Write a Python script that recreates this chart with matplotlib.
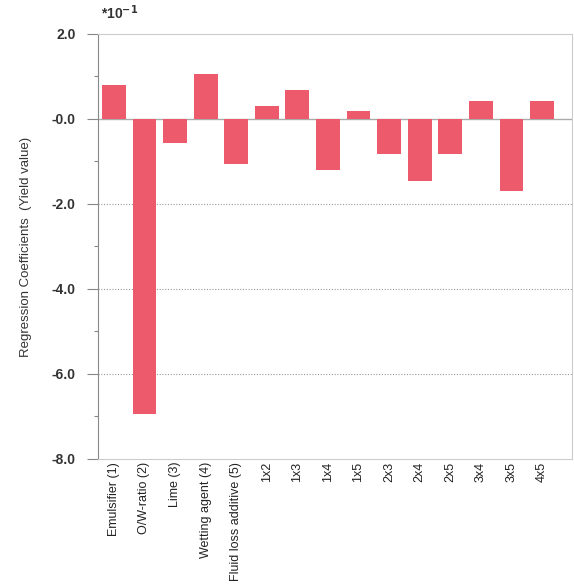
import numpy as np
import matplotlib.pyplot as plt
from matplotlib.ticker import MultipleLocator

plt.rcParams['font.family'] = ['Liberation Sans', 'DejaVu Sans']

# regression coefficients (scaled by 10)
labels = ['Emulsifier (1)', 'O/W-ratio (2)', 'Lime (3)', 'Wetting agent (4)',
          'Fluid loss additive (5)', '1x2', '1x3', '1x4', '1x5', '2x3',
          '2x4', '2x5', '3x4', '3x5', '4x5']
coef = [0.81, -6.95, -0.56, 1.06, -1.07, 0.31, 0.69, -1.19, 0.18, -0.82,
        -1.45, -0.82, 0.43, -1.70, 0.43]

fig = plt.figure(figsize=(5.74, 5.88), dpi=100)
ax = fig.add_axes([0.1707, 0.2194, 0.8258, 0.7228])

x = np.arange(len(labels))
ax.bar(x, coef, width=0.78, color='#EC5A6B', zorder=3)

ax.set_xlim(-0.52, 14.98)
ax.set_ylim(-8, 2)

# grid lines: dotted at the major levels, solid at zero
for yv in [-2, -4, -6]:
    ax.axhline(yv, color='#999999', lw=0.8, ls=(0, (1, 1.5)), zorder=1)
ax.axhline(0, color='#aaaaaa', lw=1.0, zorder=2)

ax.yaxis.set_major_locator(MultipleLocator(2))
ax.yaxis.set_minor_locator(MultipleLocator(1))
yt = np.arange(-8, 2.1, 2)
ax.set_yticks(yt)
ax.set_yticklabels(['-0.0' if v == 0 else '%.1f' % v for v in yt],
                   fontweight='bold', fontsize=10, color='#333333')
ax.tick_params(axis='y', which='major', length=8, width=0.8, color='#888888', pad=8)
ax.tick_params(axis='y', which='minor', length=3, width=0.8, color='#888888')

ax.set_xticks(x)
ax.set_xticklabels(labels, rotation=90, fontsize=9, color='#222222')
ax.tick_params(axis='x', length=0, pad=2)

for side in ['top', 'right', 'bottom']:
    ax.spines[side].set_color('#cccccc')
    ax.spines[side].set_linewidth(0.8)
ax.spines['left'].set_color('#888888')
ax.spines['left'].set_linewidth(0.8)

ax.set_ylabel('Regression Coefficients  (Yield value)', fontsize=9.5,
              color='#333333', labelpad=14)
fig.text(0.176, 0.962, r'*10$^{\mathbf{-1}}$', fontsize=10, fontweight='bold',
         color='#333333', ha='left', va='bottom')

fig.savefig('out.png', dpi=100)
